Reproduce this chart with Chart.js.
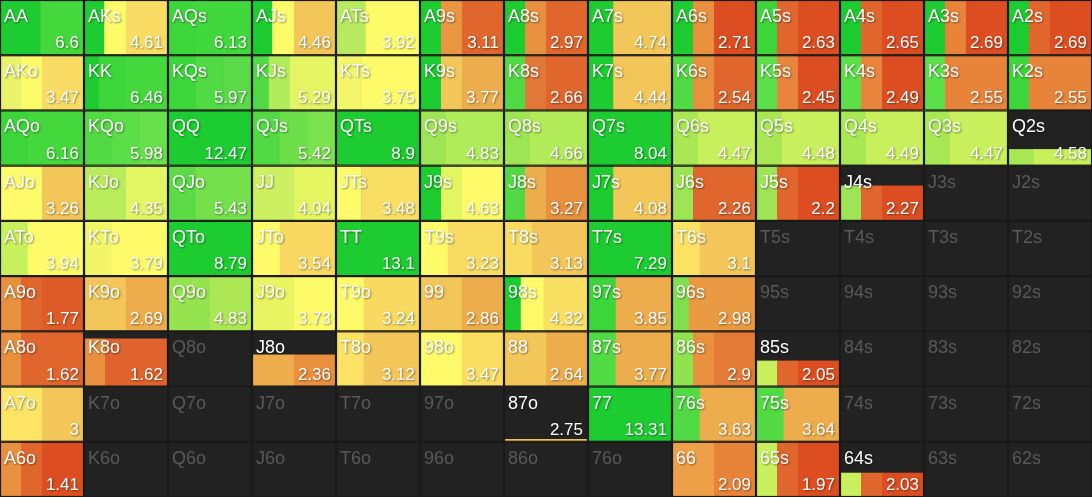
<!DOCTYPE html>
<html><head><meta charset="utf-8">
<script src="https://cdn.jsdelivr.net/npm/chart.js@4"></script>
<style>html,body{margin:0;padding:0;background:#222;}#wrap{width:1092px;height:497px;}</style>
</head><body><div id="wrap"><canvas id="c"></canvas></div>
<script>
const rankLabels = ['A','K','Q','J','T','9','8','7','6','5','4','3','2'];
const rowsShown = 9;
// EV per cell (null = not in range)
const evs = [
 [6.6,4.61,6.13,4.46,3.92,3.11,2.97,4.74,2.71,2.63,2.65,2.69,2.69],
 [3.47,6.46,5.97,5.29,3.75,3.77,2.66,4.44,2.54,2.45,2.49,2.55,2.55],
 [6.16,5.98,12.47,5.42,8.9,4.83,4.66,8.04,4.47,4.48,4.49,4.47,4.58],
 [3.26,4.35,5.43,4.04,3.48,4.63,3.27,4.08,2.26,2.2,2.27,null,null],
 [3.94,3.79,8.79,3.54,13.1,3.23,3.13,7.29,3.1,null,null,null,null],
 [1.77,2.69,4.83,3.73,3.24,2.86,4.32,3.85,2.98,null,null,null,null],
 [1.62,1.62,null,2.36,3.12,3.47,2.64,3.77,2.9,2.05,null,null,null],
 [3,null,null,null,null,null,2.75,13.31,3.63,3.64,null,null,null],
 [1.41,null,null,null,null,null,null,null,2.09,1.97,2.03,null,null]
];
// share of the cell height that is filled (range weight)
const weights = [
 [1,1,1,1,1,1,1,1,1,1,1,1,1],
 [1,1,1,1,1,1,1,1,1,1,1,1,1],
 [1,1,1,1,1,1,1,1,1,1,1,1,0.3],
 [1,1,1,1,1,1,1,1,1,1,0.64,0,0],
 [1,1,1,1,1,1,1,1,1,0,0,0,0],
 [1,1,1,1,1,1,1,1,1,0,0,0,0],
 [1,0.87,0,0.58,1,1,1,1,1,0.47,0,0,0],
 [1,0,0,0,0,0,0.05,1,1,1,0,0,0],
 [1,0,0,0,0,0,0,0,1,1,0.44,0,0]
];
// action segments per cell: [colour, width share]
const G1='#1ccc30',G2='#3cd63a',G3='#52da44',Y='#fdfb6a',O1='#f3c65a',O2='#eead4c',O3='#e8903e',R1='#e0662e',R2='#dc4e22',LG='#9ee556',YG='#c8f05c';
const segments = [
 [[[G1,.48],['#45d83d',.52]],[[G1,.24],[Y,.26],['#f8dc64',.5]],[[G2,.33],['#40d83c',.67]],[[G1,.24],[Y,.26],[O1,.5]],[['#b7ea5e',.35],[Y,.65]],[[G1,.25],['#e99542',.25],[R1,.5]],[[G1,.25],[O3,.25],[R1,.5]],[[G1,.3],[O1,.7]],[[G1,.25],[O3,.25],[R2,.5]],[[G2,.25],[R1,.25],[R2,.5]],[[G1,.25],[R1,.25],[R2,.5]],[[G1,.25],['#e8833a',.25],[R2,.5]],[[G1,.25],[R1,.25],[R2,.5]]],
 [[['#e8f26a',.25],[Y,.25],['#f8dc64',.5]],[[G1,.17],[G2,.33],['#45d83d',.5]],[[G2,.33],[G3,.33],['#5ad949',.34]],[[G3,.2],['#b2ec5c',.25],['#e4f462',.55]],[['#f3f66a',.3],[Y,.7]],[[G1,.25],[O1,.25],[O2,.5]],[[G3,.25],['#e3773a',.25],[R1,.5]],[[G1,.3],[O1,.7]],[[G3,.25],[O3,.25],[R1,.5]],[['#5be04a',.25],['#e8843c',.25],[R2,.5]],[['#5be04a',.25],['#e8843c',.25],[R2,.5]],[['#5be04a',.25],['#e8843a',.75]],[[G2,.25],['#e8843a',.75]]],
 [[[G2,.33],['#45d83d',.67]],[[G3,.33],['#5bdd48',.33],['#68e04c',.34]],[[G1,1]],[[G3,.33],['#6ddf4a',.33],['#7ae24e',.34]],[[G1,1]],[[LG,.3],['#b0ec5a',.7]],[[LG,.3],['#b3ec5a',.7]],[[G1,1]],[['#a8e855',.3],[YG,.7]],[['#a8e855',.3],[YG,.7]],[['#a8e855',.3],[YG,.7]],[['#a8e855',.3],[YG,.7]],[['#a8e855',.3],[YG,.7]]],
 [[[Y,.5],[O1,.5]],[['#b8ec5c',.5],['#e2f562',.5]],[['#5cdb46',.33],['#73e04c',.67]],[['#cdf062',.5],['#e4f562',.5]],[[Y,.3],['#f8de62',.7]],[[G1,.25],['#e2f562',.25],[Y,.5]],[[G3,.25],[O2,.25],[O3,.5]],[[G1,.3],[O1,.7]],[[LG,.25],[R1,.75]],[[LG,.25],[R1,.25],[R2,.5]],[[LG,.25],[R1,.25],[R2,.5]],[],[]],
 [[['#c8ef5c',.33],[Y,.67]],[['#f2f566',.33],[Y,.67]],[[G1,1]],[[Y,.33],['#f8d860',.67]],[[G1,1]],[[Y,.33],['#f8dc62',.67]],[['#f8dc62',.33],[O1,.67]],[[G1,1]],[['#fbe263',.33],[O1,.67]],[],[],[],[]],
 [[[O3,.25],[R1,.25],['#dd5c28',.5]],[[O1,.5],[O2,.5]],[['#96e350',.5],['#ace856',.5]],[['#e8f462',.5],[Y,.5]],[[Y,.33],['#f8da60',.67]],[[O1,.5],[O2,.5]],[[G1,.2],[Y,.27],['#fae062',.53]],[[G2,.33],[O2,.67]],[['#7ee04c',.2],['#eb9a44',.8]],[],[],[],[]],
 [[[O3,.25],[R1,.75]],[[O3,.25],['#e0622c',.75]],[],[[O2,.5],[O3,.5]],[['#fbe264',.33],[O1,.67]],[[Y,.5],['#f9de62',.5]],[[O1,.5],[O2,.5]],[[G3,.33],[O2,.67]],[['#8ee44e',.25],[O3,.25],['#e37a36',.5]],[[YG,.25],[R1,.25],[R2,.5]],[],[],[]],
 [[['#fde464',.5],[O1,.5]],[],[],[],[],[],[[O1,1]],[[G1,1]],[[G3,.33],[O2,.67]],[[G3,.33],[O2,.67]],[],[],[]],
 [[[O3,.25],[R1,.25],[R2,.5]],[],[],[],[],[],[],[],[['#eea048',.5],['#e8843a',.5]],[[YG,.25],[R1,.25],[R2,.5]],[[YG,.25],[R1,.25],[R2,.5]],[],[]]
];
function handName(r,c){
  if(r===c) return rankLabels[r]+rankLabels[c];
  if(c>r) return rankLabels[r]+rankLabels[c]+'s';
  return rankLabels[c]+rankLabels[r]+'o';
}
const gridPlugin = {
  id:'grid',
  beforeDatasetsDraw(chart){
    const ctx=chart.ctx, xs=chart.scales.x, ys=chart.scales.y;
    ctx.save();
    for(let r=0;r<rowsShown;r++){
      for(let c=0;c<13;c++){
        const x0=xs.getPixelForValue(c), x1=xs.getPixelForValue(c+1);
        const y0=ys.getPixelForValue(r), y1=ys.getPixelForValue(r+1);
        const w=x1-x0, h=y1-y0;
        ctx.fillStyle='#222222'; ctx.fillRect(x0,y0,w,h);
        const wt=weights[r][c], segs=segments[r][c];
        if(wt>0){
          const top=y1-h*wt; let sx=x0;
          segs.forEach(([col,f])=>{ctx.fillStyle=col; ctx.fillRect(sx,top,w*f+0.5,y1-top); sx+=w*f;});
        }
        ctx.strokeStyle='#1a1a1a'; ctx.lineWidth=1.2;
        ctx.strokeRect(x0+0.5,y0+0.5,w-1,h-1);
        const ev=evs[r][c];
        ctx.font='18px "Liberation Sans", "Noto Sans", sans-serif';
        ctx.textBaseline='alphabetic';
        if(ev===null){
          ctx.shadowColor='transparent'; ctx.fillStyle='#595959';
        } else {
          ctx.shadowColor='rgba(0,0,0,0.45)'; ctx.shadowBlur=2; ctx.shadowOffsetX=1; ctx.shadowOffsetY=1; ctx.fillStyle='#ffffff';
        }
        ctx.textAlign='left'; ctx.fillText(handName(r,c),x0+4,y0+22);
        if(ev!==null){
          ctx.font='17px "Liberation Sans", "Noto Sans", sans-serif';
          ctx.textAlign='right'; ctx.fillText(String(ev),x1-5,y0+h-7);
        }
        ctx.shadowColor='transparent';
      }
    }
    ctx.restore();
  }
};
new Chart(document.getElementById('c'),{
  type:'scatter',
  data:{datasets:[{data:[],pointRadius:0}]},
  options:{
    responsive:true,maintainAspectRatio:false,animation:false,
    layout:{padding:0},
    plugins:{legend:{display:false},tooltip:{enabled:false}},
    scales:{
      x:{type:'linear',min:0,max:13,display:false},
      y:{type:'linear',min:0,max:rowsShown,reverse:true,display:false}
    }
  },
  plugins:[gridPlugin]
});
</script></body></html>
